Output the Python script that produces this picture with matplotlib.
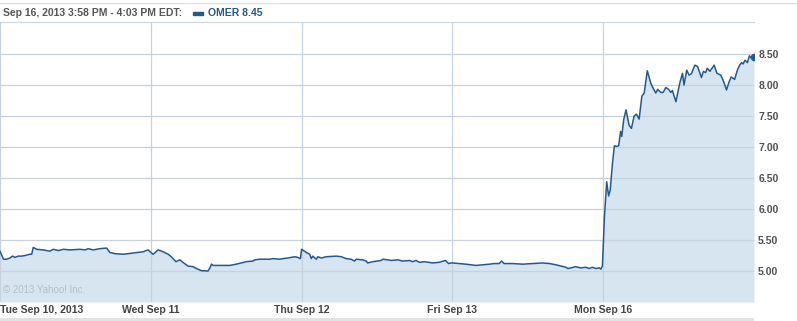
import matplotlib
matplotlib.use("Agg")
import matplotlib.pyplot as plt
import numpy as np

# minutes since 9:30 open, and price, one pair of lists per session
day_labels = ["Tue Sep 10, 2013", "Wed Sep 11", "Thu Sep 12", "Fri Sep 13", "Mon Sep 16"]

sep10_min = [0, 9, 17, 26, 32, 39, 47, 56, 65, 77, 82, 86, 95, 112, 129, 138, 151, 164,
             181, 207, 220, 228, 241, 258, 276, 284, 297, 319, 344, 370, 383]
sep10_px = [5.32, 5.19, 5.19, 5.21, 5.24, 5.22, 5.24, 5.24, 5.25, 5.27, 5.27, 5.38, 5.35,
            5.34, 5.32, 5.35, 5.33, 5.35, 5.34, 5.35, 5.34, 5.36, 5.34, 5.36, 5.37, 5.30,
            5.28, 5.27, 5.29, 5.31, 5.34]

sep11_min = [0, 6, 19, 32, 45, 53, 65, 75, 83, 96, 109, 118, 131, 148, 152, 157, 161, 204,
             221, 247, 264, 269, 282, 307, 316, 333, 342, 355, 372, 380, 387]
sep11_px = [5.30, 5.27, 5.34, 5.31, 5.27, 5.23, 5.15, 5.18, 5.14, 5.08, 5.07, 5.04, 5.005,
            5.0, 5.04, 5.11, 5.09, 5.09, 5.11, 5.15, 5.16, 5.18, 5.19, 5.19, 5.20, 5.19,
            5.20, 5.21, 5.23, 5.22, 5.20]

sep12_min = [0, 12, 21, 25, 29, 38, 42, 51, 64, 90, 103, 115, 128, 137, 141, 158, 167, 171,
             184, 206, 210, 223, 232, 249, 262, 279, 287, 296, 305, 318, 339, 356, 372, 380, 387]
sep12_px = [5.35, 5.30, 5.27, 5.20, 5.24, 5.19, 5.23, 5.21, 5.23, 5.24, 5.23, 5.20, 5.19,
            5.16, 5.19, 5.18, 5.16, 5.13, 5.15, 5.17, 5.19, 5.18, 5.17, 5.18, 5.16, 5.17,
            5.15, 5.17, 5.14, 5.15, 5.13, 5.14, 5.17, 5.12, 5.13]

sep13_min = [0, 18, 35, 61, 78, 96, 108, 121, 127, 134, 156, 182, 207, 233, 251, 268, 294,
             298, 307, 318, 332, 345, 354, 362, 371, 380, 384, 388]
sep13_px = [5.13, 5.12, 5.11, 5.09, 5.10, 5.11, 5.12, 5.12, 5.16, 5.12, 5.12, 5.11, 5.12,
            5.13, 5.12, 5.10, 5.06, 5.04, 5.05, 5.07, 5.05, 5.06, 5.04, 5.06, 5.04, 5.05,
            5.03, 5.08]

sep16_min = [3, 9, 14, 18, 24, 29, 34, 40, 45, 48, 53, 59, 67, 73, 80, 86, 93, 100, 106,
             114, 123, 129, 136, 141, 149, 155, 162, 169, 175, 179, 188, 198, 205, 209, 216,
             222, 228, 237, 244, 254, 259, 265, 269, 276, 287, 294, 304, 310, 319, 325, 331,
             340, 347, 353, 358, 362, 367, 373, 378, 382, 386, 390]
sep16_px = [5.85, 6.44, 6.21, 6.30, 6.74, 7.02, 7.01, 7.02, 7.25, 7.17, 7.44, 7.60, 7.35,
            7.30, 7.50, 7.53, 7.45, 7.82, 7.87, 8.23, 8.03, 7.95, 7.87, 7.93, 7.88, 7.88,
            7.96, 7.93, 7.88, 7.91, 7.73, 8.03, 8.19, 8.00, 8.24, 8.16, 8.18, 8.32, 8.30,
            8.12, 8.22, 8.20, 8.27, 8.22, 8.32, 8.19, 8.16, 8.08, 7.92, 8.04, 8.13, 8.09,
            8.24, 8.32, 8.36, 8.34, 8.40, 8.36, 8.47, 8.44, 8.45, 8.45]

header = "Sep 16, 2013 3:58 PM - 4:03 PM EDT:"
legend_label = "OMER 8.45"
y_ticks = [5.0, 5.5, 6.0, 6.5, 7.0, 7.5, 8.0, 8.5]

SESSION = 390.0
line_col = "#215a92"
fill_col = "#d6e5f0"
grid_col = "#c6d3de"
text_col = "#505050"
FONT = "Liberation Sans"

sessions = [(sep10_min, sep10_px), (sep11_min, sep11_px), (sep12_min, sep12_px),
            (sep13_min, sep13_px), (sep16_min, sep16_px)]
t = np.concatenate([i + np.array(m) / SESSION for i, (m, p) in enumerate(sessions)])
price = np.concatenate([np.array(p) for m, p in sessions])

W, H = 797, 321
fig = plt.figure(figsize=(W / 100, H / 100), dpi=100)
ax = fig.add_axes([0, (H - 302) / H, 754 / W, 280 / H])

ax.fill_between(t, price, 4.5, color=fill_col, lw=0, zorder=1)
ax.plot(t, price, color=line_col, lw=1.1, zorder=3)
ax.plot(t[-1], price[-1], "o", color=line_col, ms=4.5, zorder=4)

ax.set_xlim(0, 5)
ax.set_ylim(4.5, 4.5 + 280 / 62)
ax.set_yticks(y_ticks)
ax.set_yticklabels([f"{v:.2f}" for v in y_ticks])
ax.yaxis.tick_right()
ax.tick_params(axis="y", length=0, pad=3, labelsize=7.5, labelcolor=text_col)
for lab in ax.get_yticklabels():
    lab.set_fontweight("bold")
    lab.set_family(FONT)

ax.set_xticks(range(5))
ax.set_xticklabels([])
ax.tick_params(axis="x", length=0)
for i, lab in enumerate(day_labels):
    ax.text(i, -8 / 280, lab, transform=ax.get_xaxis_transform(),
            ha="left" if i == 0 else "center", va="center", family=FONT,
            fontsize=7.6, fontweight="bold", color="#444444")

ax.grid(True, color=grid_col, lw=0.9, zorder=2)
ax.set_axisbelow(False)
for side in ["left", "right", "bottom"]:
    ax.spines[side].set_visible(False)
ax.spines["top"].set_color("#d0d8df")
ax.spines["top"].set_linewidth(0.9)

ax.text(0.004, 0.025, "\u00a9 2013 Yahoo! Inc.", transform=ax.transAxes, family=FONT,
        fontsize=7, color="#b3bec8", va="bottom", ha="left", zorder=5)

# header strip
fig.add_artist(plt.Line2D([0, 1], [1 - 3 / H, 1 - 3 / H], color="#dedede", lw=0.9))
fig.text(3 / W, 1 - 13 / H, header, fontsize=7.5, fontweight="bold", family=FONT,
         color="#555555", va="center", ha="left")
fig.add_artist(plt.Rectangle((193 / W, 1 - 15 / H), 10 / W, 3.5 / H, color=line_col))
fig.text(208 / W, 1 - 13 / H, legend_label, fontsize=7.5, fontweight="bold", family=FONT,
         color=line_col, va="center", ha="left")

# grey strip at the bottom
fig.add_artist(plt.Rectangle((0, 0), 754 / W, 3 / H, color="#e2e2e2", lw=0))

fig.savefig("out.png", dpi=100)
